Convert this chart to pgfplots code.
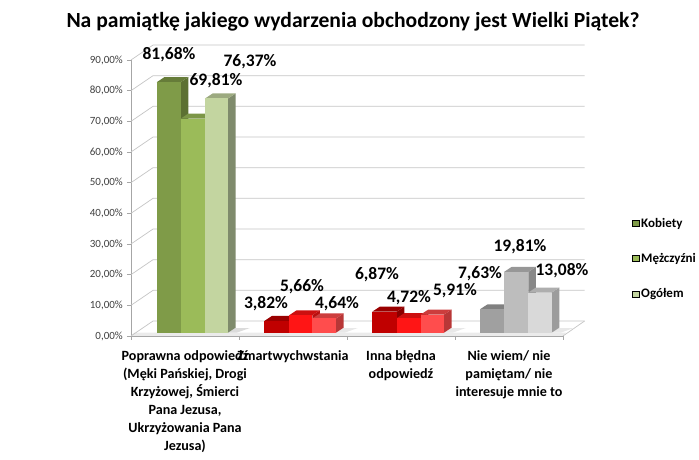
\documentclass[border=0pt]{standalone}
\usepackage{fontspec}
\setmainfont{Carlito}
\usepackage{pgfplots}
\pgfplotsset{compat=1.18}
\definecolor{gridc}{HTML}{C4C4C4}
\definecolor{axisc}{HTML}{A6A6A6}
\definecolor{ga}{HTML}{7F9B48}\definecolor{gat}{HTML}{667C39}\definecolor{gas}{HTML}{5C7032}
\definecolor{gb}{HTML}{9BBB59}\definecolor{gbt}{HTML}{7C9647}\definecolor{gbs}{HTML}{708740}
\definecolor{gc}{HTML}{C3D5A0}\definecolor{gct}{HTML}{9CAA80}\definecolor{gcs}{HTML}{7F8B6C}
\definecolor{ra}{HTML}{C00000}\definecolor{rat}{HTML}{9A0000}\definecolor{ras}{HTML}{8A0000}
\definecolor{rb}{HTML}{FF1515}\definecolor{rbt}{HTML}{CC1010}\definecolor{rbs}{HTML}{B80F0F}
\definecolor{rc}{HTML}{FF4D4D}\definecolor{rct}{HTML}{CC3D3D}\definecolor{rcs}{HTML}{B83737}
\definecolor{sa}{HTML}{A0A0A0}\definecolor{sat}{HTML}{808080}\definecolor{sas}{HTML}{747474}
\definecolor{sb}{HTML}{BDBDBD}\definecolor{sbt}{HTML}{979797}\definecolor{sbs}{HTML}{888888}
\definecolor{sc}{HTML}{D9D9D9}\definecolor{sct}{HTML}{AEAEAE}\definecolor{scs}{HTML}{9C9C9C}

% x0 px, x1 px, value, then colours front/top/side
\newcommand\tdbar[6]{%
  \pgfmathsetmacro\xa{(#1-131)/108}%
  \pgfmathsetmacro\xb{(#2-131)/108}%
  \pgfmathsetmacro\xc{(#1+7.6-131)/108}%
  \pgfmathsetmacro\xd{(#2+7.6-131)/108}%
  \pgfmathsetmacro\ya{1.08}%
  \pgfmathsetmacro\yb{#3+1.08}%
  \pgfmathsetmacro\yc{1.08+1.63}%
  \pgfmathsetmacro\yd{#3+1.08+1.63}%
  \edef\tmp{%
    \noexpand\addplot[forget plot,draw=none,fill=#6] coordinates {(\xb,\ya) (\xd,\yc) (\xd,\yd) (\xb,\yb)} --cycle;
    \noexpand\addplot[forget plot,draw=none,fill=#5] coordinates {(\xa,\yb) (\xb,\yb) (\xd,\yd) (\xc,\yd)} --cycle;
    \noexpand\addplot[forget plot,draw=none,fill=#4] coordinates {(\xa,\ya) (\xb,\ya) (\xb,\yb) (\xa,\yb)} --cycle;
  }\tmp}
% one gridline across side wall and back wall
\newcommand\gridl[1]{%
  \pgfmathsetmacro\yb{#1+4.89}%
  \edef\tmp{\noexpand\addplot[forget plot,gridc,line width=.7pt] coordinates {(0,#1) (0.2037,\yb) (4.2,\yb)};}\tmp}
\newcommand\lbl[3]{\node[font=\bfseries\fontsize{17.5}{18}\selectfont,inner sep=0pt] at (axis cs:{(#1-131)/108},{(334-#2)/3.0667}) {#3};}

\begin{document}
\begin{tikzpicture}
\useasboundingbox (-131pt,-124pt) rectangle (568pt,336pt);
\begin{axis}[
  scale only axis,width=432pt,height=276pt,
  xmin=0,xmax=4,ymin=0,ymax=90,clip=false,
  axis x line*=bottom,axis y line*=left,
  axis line style={axisc,line width=.7pt},
  tick style={axisc,line width=.7pt},
  tick align=outside,
  ytick={0,10,20,30,40,50,60,70,80,90},
  major tick length=4pt,
  yticklabel={\pgfmathprintnumber{\tick}\%},
  /pgf/number format/.cd,assume math mode=true,use comma,fixed,fixed zerofill,precision=2,
  /pgfplots/.cd,
  yticklabel style={font=\fontsize{11}{12}\selectfont,text=black!75,inner sep=1pt,xshift=-3pt},
  xtick={0,1,2,3,4},xticklabels={},
  extra x ticks={0.5,1.5,2.5,3.5},
  extra x tick style={major tick length=0pt,
    xticklabel style={font=\bfseries\fontsize{14.1}{18}\selectfont,align=center,anchor=north,yshift=-11pt}},
  extra x tick labels={{Poprawna odpowiedź\\(Męki Pańskiej, Drogi\\Krzyżowej, Śmierci\\Pana Jezusa,\\Ukrzyżowania Pana\\Jezusa)},
    {Zmartwychwstania},{Inna błędna\\odpowiedź},{Nie wiem/ nie\\pamiętam/ nie\\interesuje mnie to}},
  legend style={at={(rel axis cs:1.16,0.435)},anchor=north west,draw=none,fill=none,
    font=\bfseries\fontsize{13}{15}\selectfont,row sep=20.5pt,inner sep=0pt,
    /tikz/every even column/.style={column sep=0pt}},
  legend cell align=left,
  legend image code/.code={\fill[#1] (0pt,-3pt) rectangle (6.5pt,3pt);},
]
% walls and floor
\addplot[forget plot,draw=none,fill=black!8] coordinates {(0,0) (4,0) (4.03,1.1) (0.03,1.1)} --cycle;
\gridl{0}\gridl{10}\gridl{20}\gridl{30}\gridl{40}\gridl{50}\gridl{60}\gridl{70}\gridl{80}\gridl{90}
\addplot[forget plot,gridc,line width=.7pt] coordinates {(4,0) (4.2,4.89)};
% shadows on the floor
\addplot[forget plot,draw=none,fill=black!14] coordinates {(0.9,1.1) (0.98,1.1) (1.1,2.6) (0.96,2.6)} --cycle;
\addplot[forget plot,draw=none,fill=black!9] coordinates {(1.9,1.1) (1.98,1.1) (2.1,2.6) (1.96,2.6)} --cycle;
\addplot[forget plot,draw=none,fill=black!9] coordinates {(2.9,1.1) (2.98,1.1) (3.1,2.6) (2.96,2.6)} --cycle;
\addplot[forget plot,draw=none,fill=black!9] coordinates {(3.9,1.1) (3.98,1.1) (4.1,2.6) (3.96,2.6)} --cycle;
% bars
\tdbar{156.7}{180.7}{81.68}{ga}{gat}{gas}
\tdbar{180.7}{205}{69.81}{gb}{gbt}{gbs}
\tdbar{205}{228}{76.37}{gc}{gct}{gcs}
\tdbar{264.3}{289}{3.82}{ra}{rat}{ras}
\tdbar{289}{312.3}{5.66}{rb}{rbt}{rbs}
\tdbar{312.3}{336}{4.64}{rc}{rct}{rcs}
\tdbar{372.3}{396.7}{6.87}{ra}{rat}{ras}
\tdbar{396.7}{420.7}{4.72}{rb}{rbt}{rbs}
\tdbar{420.7}{444}{5.91}{rc}{rct}{rcs}
\tdbar{480}{504}{7.63}{sa}{sat}{sas}
\tdbar{504}{528.3}{19.81}{sb}{sbt}{sbs}
\tdbar{528.3}{551.7}{13.08}{sc}{sct}{scs}
% value labels
\lbl{169}{53}{81,68\%}
\lbl{216}{79}{69,81\%}
\lbl{250}{60}{76,37\%}
\lbl{266}{302}{3,82\%}
\lbl{302}{285}{5,66\%}
\lbl{337}{302}{4,64\%}
\lbl{377}{273}{6,87\%}
\lbl{409}{296}{4,72\%}
\lbl{455}{289}{5,91\%}
\lbl{480}{272}{7,63\%}
\lbl{520}{245}{19,81\%}
\lbl{562}{269}{13,08\%}
\node[font=\bfseries\fontsize{21.6}{23}\selectfont,inner sep=0pt] at (axis cs:{(353-131)/108},{(334-20)/3.0667}) {Na pamiątkę jakiego wydarzenia obchodzony jest Wielki Piątek?};
\addlegendimage{fill=ga}
\addlegendimage{fill=gb}
\addlegendimage{fill=gc}
\legend{Kobiety,Mężczyźni,Ogółem}
\end{axis}
\end{tikzpicture}
\end{document}
